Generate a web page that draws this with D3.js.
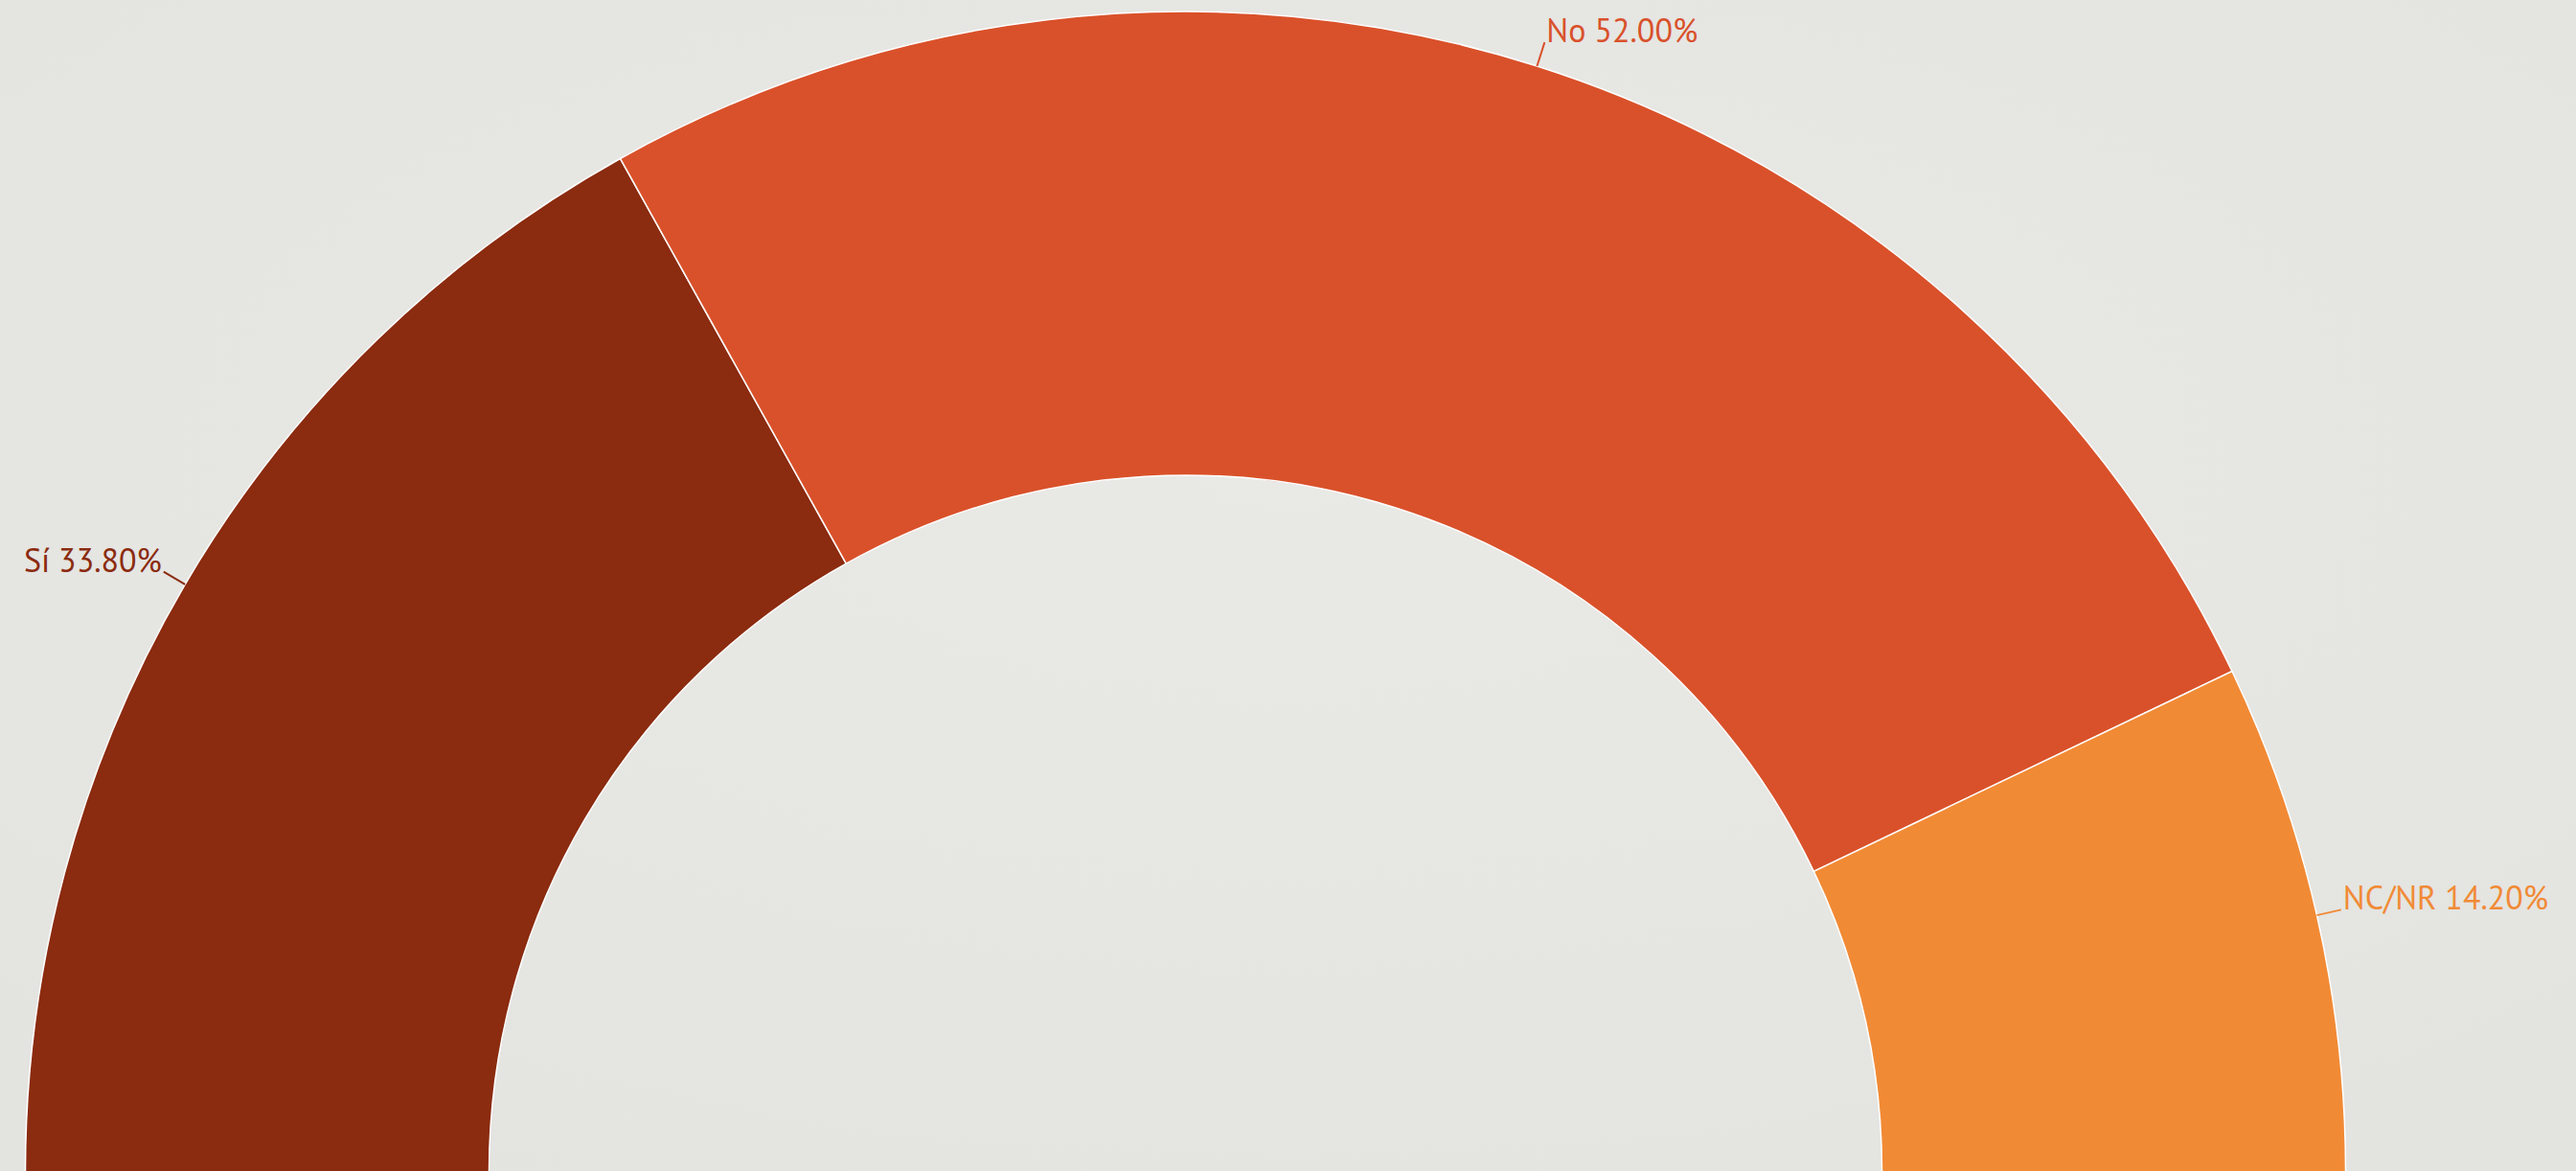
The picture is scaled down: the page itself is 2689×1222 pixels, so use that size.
<!DOCTYPE html>
<html>
<head>
<meta charset="utf-8">
<script src="https://cdn.jsdelivr.net/npm/d3@7"></script>
<style>
    html, body { margin: 0; padding: 0; }
    body { width: 2689px; height: 1222px; overflow: hidden; background: #e5e5e2; }
    svg { display: block; }
</style>
</head>
<body>
<div id="chart"></div>
<script>
// answer categories and shares (percent)
var categories = ["Sí", "No", "NC/NR"];
var values = [33.8, 52.0, 14.2];
var colors = ["#8b2b0f", "#d9512a", "#f18a35"];

var width = 2689,
    height = 1222;

var cx = 1237.5,
    cy = 1223,
    outerRadius = 1211,
    innerRadius = 727;

var svg = d3.select("#chart")
    .append("svg")
    .attr("width", width)
    .attr("height", height);

// soft background shading
var defs = svg.append("defs");
var grad = defs.append("radialGradient")
    .attr("id", "bg")
    .attr("cx", "50%").attr("cy", "40%").attr("r", "75%");
grad.append("stop").attr("offset", "0%").attr("stop-color", "#e9e9e6");
grad.append("stop").attr("offset", "100%").attr("stop-color", "#e3e3e0");
svg.append("rect")
    .attr("width", width)
    .attr("height", height)
    .attr("fill", "url(#bg)");

var data = categories.map(function (c, i) {
    return { name: c, value: values[i], color: colors[i] };
});

var pie = d3.pie()
    .sort(null)
    .startAngle(-Math.PI / 2)
    .endAngle(Math.PI / 2)
    .value(function (d) { return d.value; });

var arc = d3.arc()
    .innerRadius(innerRadius)
    .outerRadius(outerRadius);

var g = svg.append("g").attr("transform", "translate(" + cx + "," + cy + ")");

var arcs = pie(data);

g.selectAll("path.slice")
    .data(arcs)
    .enter().append("path")
    .attr("class", "slice")
    .attr("d", arc)
    .attr("fill", function (d) { return d.data.color; })
    .attr("stroke", "#ffffff")
    .attr("stroke-width", 1.5);

// label leader lines, radial from the outer edge
var lineLen = 26;
function pointAt(angle, r) {
    return [Math.sin(angle) * r, -Math.cos(angle) * r];
}

var labels = g.selectAll("g.label")
    .data(arcs)
    .enter().append("g")
    .attr("class", "label");

labels.append("line")
    .attr("x1", function (d) { return pointAt((d.startAngle + d.endAngle) / 2, outerRadius)[0]; })
    .attr("y1", function (d) { return pointAt((d.startAngle + d.endAngle) / 2, outerRadius)[1]; })
    .attr("x2", function (d) { return pointAt((d.startAngle + d.endAngle) / 2, outerRadius + lineLen)[0]; })
    .attr("y2", function (d) { return pointAt((d.startAngle + d.endAngle) / 2, outerRadius + lineLen)[1]; })
    .attr("stroke", function (d) { return d.data.color; })
    .attr("stroke-width", 2);

labels.append("text")
    .attr("x", function (d) {
        var a = (d.startAngle + d.endAngle) / 2;
        var p = pointAt(a, outerRadius + lineLen);
        return a < 0 ? p[0] - 2 : p[0] + 2;
    })
    .attr("y", function (d) { return pointAt((d.startAngle + d.endAngle) / 2, outerRadius + lineLen)[1]; })
    .attr("text-anchor", function (d) { return (d.startAngle + d.endAngle) / 2 < 0 ? "end" : "start"; })
    .attr("fill", function (d) { return d.data.color; })
    .attr("font-family", "'PT Sans', 'Noto Sans', sans-serif")
    .attr("font-size", "34px")
    .text(function (d) { return d.data.name + " " + d.data.value.toFixed(2) + "%"; });
</script>
</body>
</html>
